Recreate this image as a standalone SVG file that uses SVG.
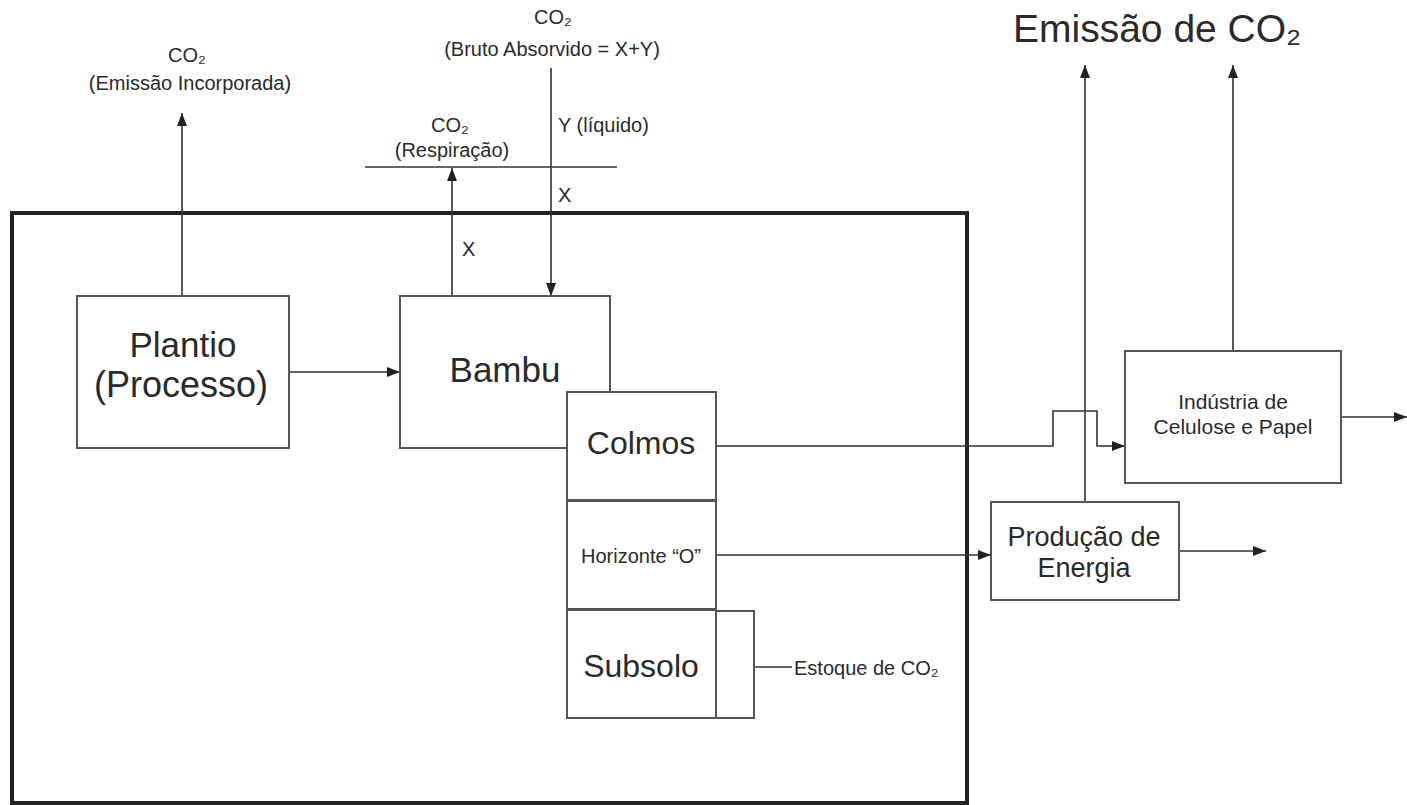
<svg xmlns="http://www.w3.org/2000/svg" width="1407" height="805" viewBox="0 0 1407 805">
<defs>
<style>
.box{fill:#fff;stroke:#555;stroke-width:2}
.frame{fill:none;stroke:#222;stroke-width:4}
.ln{fill:none;stroke:#333;stroke-width:1.6}
.t{font-family:"Liberation Sans",Arial,sans-serif;fill:#2a2a2a}
.m{text-anchor:middle}
</style>
<marker id="ah" markerUnits="userSpaceOnUse" markerWidth="14" markerHeight="10" refX="13" refY="5" orient="auto">
<path d="M0,0 L13,5 L0,10 z" fill="#222"/>
</marker>
</defs>
<rect width="1407" height="805" fill="#fff"/>
<g id="frame"><rect class="frame" x="12" y="213" width="955" height="590"/></g>
<g id="connectors">
<line class="ln" x1="182" y1="296" x2="182" y2="113" marker-end="url(#ah)"/>
<line class="ln" x1="289" y1="372" x2="400" y2="372" marker-end="url(#ah)"/>
<line class="ln" x1="452" y1="296" x2="452" y2="168" marker-end="url(#ah)"/>
<line class="ln" x1="365" y1="167" x2="617" y2="167"/>
<line class="ln" x1="551" y1="68" x2="551" y2="296" marker-end="url(#ah)"/>
<polyline class="ln" points="716,446 1053,446 1053,411 1097,411 1097,446 1125,446" marker-end="url(#ah)"/>
<line class="ln" x1="716" y1="555" x2="991" y2="555" marker-end="url(#ah)"/>
<line class="ln" x1="1085" y1="502" x2="1085" y2="65" marker-end="url(#ah)"/>
<line class="ln" x1="1233" y1="351" x2="1233" y2="65" marker-end="url(#ah)"/>
<line class="ln" x1="1341" y1="417" x2="1407" y2="417" marker-end="url(#ah)"/>
<line class="ln" x1="1179" y1="551" x2="1266" y2="551" marker-end="url(#ah)"/>
<line class="ln" x1="754" y1="667" x2="792" y2="667"/>
</g>
<g id="labels">
<text class="t m" x="187" y="62" font-size="20">CO₂</text>
<text class="t m" x="190" y="90" font-size="20">(Emissão Incorporada)</text>
<text class="t m" x="553" y="24" font-size="20">CO₂</text>
<text class="t m" x="552" y="56" font-size="20">(Bruto Absorvido = X+Y)</text>
<text class="t m" x="450" y="132" font-size="20">CO₂</text>
<text class="t m" x="452" y="157" font-size="20">(Respiração)</text>
<text class="t" x="558" y="132" font-size="20">Y (líquido)</text>
<text class="t" x="558" y="202" font-size="20">X</text>
<text class="t" x="462" y="256" font-size="20">X</text>
<text class="t" x="1013" y="42" font-size="39">Emissão de CO₂</text>
<text class="t" x="794" y="675" font-size="20">Estoque de CO₂</text>
</g>
<g id="plantio">
<rect class="box" x="77" y="296" width="212" height="152"/>
<text class="t m" x="183" y="357" font-size="35">Plantio</text>
<text class="t m" x="181" y="397" font-size="36">(Processo)</text>
</g>
<g id="bambu">
<rect class="box" x="400" y="296" width="210" height="152"/>
<text class="t m" x="505" y="382" font-size="35">Bambu</text>
</g>
<g id="colmos">
<rect class="box" x="567" y="392" width="149" height="108"/>
<text class="t m" x="641" y="454" font-size="32">Colmos</text>
</g>
<g id="horizonte">
<rect class="box" x="567" y="501" width="149" height="108"/>
<text class="t m" x="641" y="563" font-size="20">Horizonte “O”</text>
</g>
<g id="subsolo">
<rect class="box" x="567" y="610" width="149" height="108"/>
<text class="t m" x="641" y="677" font-size="32">Subsolo</text>
</g>
<g id="estoque">
<polyline class="ln" style="stroke:#555;stroke-width:2" points="716,611 754,611 754,718 716,718"/>
</g>
<g id="producao">
<rect class="box" x="991" y="502" width="188" height="98"/>
<text class="t m" x="1084" y="546" font-size="27">Produção de</text>
<text class="t m" x="1084" y="577" font-size="27">Energia</text>
</g>
<g id="industria">
<rect class="box" x="1125" y="351" width="216" height="132"/>
<text class="t m" x="1233" y="409" font-size="21">Indústria de</text>
<text class="t m" x="1233" y="434" font-size="21">Celulose e Papel</text>
</g>
</svg>
